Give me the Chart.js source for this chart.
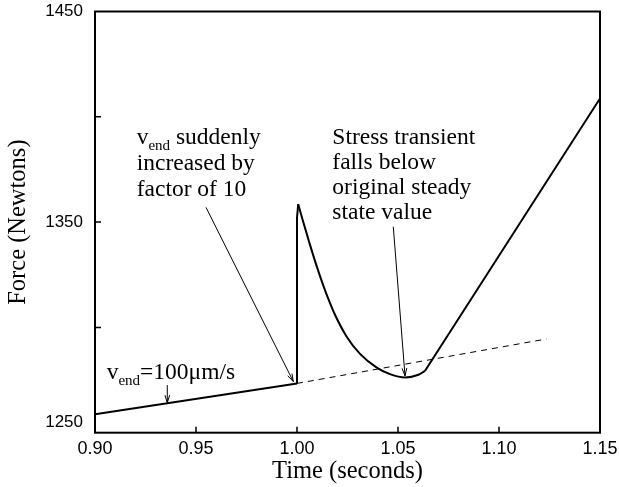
<!DOCTYPE html>
<html>
<head>
<meta charset="utf-8">
<script src="https://cdn.jsdelivr.net/npm/chart.js@4/dist/chart.umd.min.js"></script>
<style>
  html, body { margin: 0; padding: 0; background: #ffffff; }
  #c { display: block; }
</style>
</head>
<body>
<canvas id="c" width="619" height="487" style="width:619px;height:487px"></canvas>
<script>
// ---- data ----
const baseTime  = [0.90, 1.00];
const baseForce = [1258.7, 1273.4];

const jumpTime  = [1.00, 1.00, 1.0006];
const jumpForce = [1273.4, 1352.0, 1358.5];

const transientTime  = [1.0006, 1.0031, 1.0064, 1.0097, 1.0129, 1.0160, 1.0188, 1.0246, 1.0312, 1.0395, 1.0460, 1.0535, 1.0601, 1.0634];
const transientForce = [1358.5, 1350.0, 1339.3, 1329.2, 1320.2, 1312.3, 1306.0, 1295.6, 1287.4, 1280.9, 1277.8, 1276.2, 1277.5, 1279.4];

const recoveryTime  = [1.0634, 1.15];
const recoveryForce = [1279.4, 1408.7];

const steadyTime  = [1.00, 1.1235];
const steadyForce = [1273.4, 1294.5];

const timeTicks  = [0.90, 0.95, 1.00, 1.05, 1.10, 1.15];
const timeTickLabels  = ['0.90', '0.95', '1.00', '1.05', '1.10', '1.15'];
const forceTicks = [1250, 1300, 1350, 1400, 1450];
const forceTickLabels = ['1250', '', '1350', '', '1450'];

function pts(xs, ys) { return xs.map((x, i) => ({ x: x, y: ys[i] })); }

const annotations = [
  { x: 0.92064, y: 1390.5, spacing: 26, lines: [
      [['v', 0], ['end', 1], [' suddenly', 0]],
      [['increased by', 0]],
      [['factor of 10', 0]] ] },
  { x: 1.01748, y: 1390.5, spacing: 25, lines: [
      [['Stress transient', 0]],
      [['falls below', 0]],
      [['original steady', 0]],
      [['state value', 0]] ] },
  { x: 0.90579, y: 1279.0, spacing: 25, lines: [
      [['v', 0], ['end', 1], ['=100\u03bcm/s', 0]] ] }
];
const arrows = [
  { from: [0.95495, 1357.0], to: [0.99817, 1274.3] },
  { from: [1.04767, 1347.8], to: [1.05347, 1277.0] },
  { from: [0.93579, 1272.6], to: [0.93579, 1264.2] }
];

const serif = '"Liberation Serif", "Times New Roman", serif';
const sans = '"Liberation Sans", Arial, sans-serif';

const framePlugin = {
  id: 'frame',
  afterDraw(chart) {
    const ctx = chart.ctx;
    const a = chart.chartArea;
    const xs = chart.scales.x, ys = chart.scales.y;
    ctx.save();
    ctx.strokeStyle = '#000';
    // inward ticks
    ctx.lineWidth = 1.5;
    ctx.beginPath();
    timeTicks.forEach(t => {
      const px = xs.getPixelForValue(t);
      if (px > a.left + 2 && px < a.right - 2) {
        ctx.moveTo(px, a.bottom);
        ctx.lineTo(px, a.bottom - 6);
      }
    });
    forceTicks.forEach(t => {
      const py = ys.getPixelForValue(t);
      if (py > a.top + 2 && py < a.bottom - 2) {
        ctx.moveTo(a.left, py);
        ctx.lineTo(a.left + 6, py);
      }
    });
    ctx.stroke();
    // frame
    ctx.lineWidth = 2;
    ctx.strokeRect(a.left, a.top, a.right - a.left, a.bottom - a.top);

    // annotations text
    ctx.fillStyle = '#000';
    ctx.textBaseline = 'alphabetic';
    ctx.textAlign = 'left';
    annotations.forEach(an => {
      const x0 = xs.getPixelForValue(an.x);
      const yc = ys.getPixelForValue(an.y);
      an.lines.forEach((segs, li) => {
        let x = x0;
        const base = yc + 7 + li * an.spacing;
        segs.forEach(([txt, sub]) => {
          ctx.font = sub ? ('15px ' + serif) : ('23.5px ' + serif);
          const yy = sub ? base + 6 : base;
          ctx.fillText(txt, x, yy);
          x += ctx.measureText(txt).width;
        });
      });
    });

    // arrows
    ctx.lineWidth = 1;
    arrows.forEach(ar => {
      const x1 = xs.getPixelForValue(ar.from[0]), y1 = ys.getPixelForValue(ar.from[1]);
      const x2 = xs.getPixelForValue(ar.to[0]), y2 = ys.getPixelForValue(ar.to[1]);
      ctx.beginPath();
      ctx.moveTo(x1, y1);
      ctx.lineTo(x2, y2);
      const ang = Math.atan2(y2 - y1, x2 - x1);
      const L = 8, w = 0.3;
      ctx.moveTo(x2 - L * Math.cos(ang - w), y2 - L * Math.sin(ang - w));
      ctx.lineTo(x2, y2);
      ctx.lineTo(x2 - L * Math.cos(ang + w), y2 - L * Math.sin(ang + w));
      ctx.stroke();
    });
    ctx.restore();
  }
};

const solid = { borderColor: '#000', borderWidth: 2, pointRadius: 0, showLine: true, fill: false };

new Chart(document.getElementById('c'), {
  type: 'scatter',
  data: {
    datasets: [
      Object.assign({ label: 'baseline', data: pts(baseTime, baseForce) }, solid),
      Object.assign({ label: 'jump', data: pts(jumpTime, jumpForce) }, solid),
      Object.assign({ label: 'transient', data: pts(transientTime, transientForce), cubicInterpolationMode: 'monotone' }, solid),
      Object.assign({ label: 'recovery', data: pts(recoveryTime, recoveryForce) }, solid),
      { label: 'steady', data: pts(steadyTime, steadyForce), borderColor: '#000', borderWidth: 1,
        borderDash: [6, 5], pointRadius: 0, showLine: true, fill: false }
    ]
  },
  options: {
    responsive: false,
    animation: false,
    devicePixelRatio: 1,
    layout: { padding: { top: 11.5, right: 19, bottom: 0, left: 0 } },
    plugins: { legend: { display: false }, tooltip: { enabled: false } },
    scales: {
      x: {
        type: 'linear', min: 0.90, max: 1.15,
        afterFit(s) { s.height = 54.3; s.paddingLeft = 0; s.paddingRight = 0; },
        afterBuildTicks(s) { s.ticks = timeTicks.map(v => ({ value: v })); },
        grid: { display: false, drawTicks: false },
        border: { display: false },
        ticks: {
          padding: 5.5, color: '#000', maxRotation: 0, autoSkip: false,
          font: { family: sans, size: 18 },
          callback(v, i) { return timeTickLabels[i]; }
        },
        title: { display: true, text: 'Time (seconds)', color: '#000',
          font: { family: serif, size: 24.5 }, padding: { top: 0, bottom: 1 } }
      },
      y: {
        type: 'linear', min: 1250, max: 1450,
        afterFit(s) { s.width = 95; s.paddingTop = 0; s.paddingBottom = 0; },
        afterBuildTicks(s) { s.ticks = forceTicks.map(v => ({ value: v })); },
        grid: { display: false, drawTicks: false },
        border: { display: false },
        ticks: {
          padding: 12, color: '#000', autoSkip: false,
          font: { family: sans, size: 17 },
          callback(v, i) { return i === 0 ? [forceTickLabels[i], ''] : forceTickLabels[i]; }
        },
        title: { display: true, text: 'Force (Newtons)', color: '#000',
          font: { family: serif, size: 24.5 }, padding: { top: 4, bottom: 0 } }
      }
    }
  },
  plugins: [framePlugin]
});
</script>
</body>
</html>
